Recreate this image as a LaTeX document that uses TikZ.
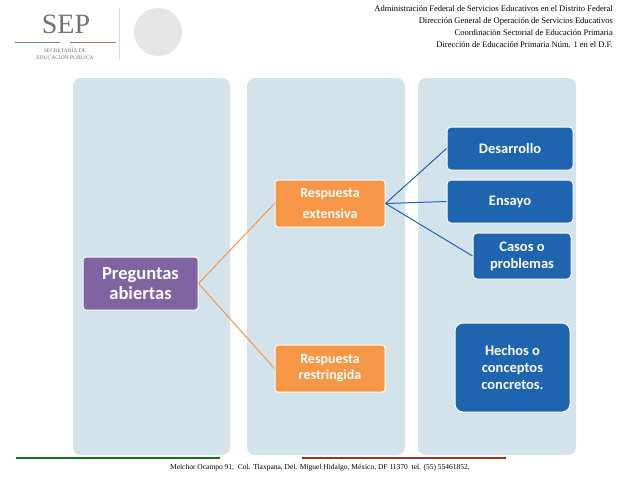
\documentclass[tikz,border=0pt]{standalone}
\usepackage{fontspec}
\setmainfont{Liberation Serif}
\newfontfamily\calibri{Carlito}
\usetikzlibrary{positioning}
\definecolor{colbg}{HTML}{D3E3EC}
\definecolor{purplebox}{HTML}{8064A2}
\definecolor{orangebox}{HTML}{F79646}
\definecolor{bluebox}{HTML}{1F64AE}
\definecolor{sepgreen}{HTML}{1E6B2A}
\definecolor{sepred}{HTML}{8B3A2A}
\tikzset{
  column/.style={fill=colbg, rounded corners=8pt, draw=none},
  mainbox/.style={fill=purplebox, draw=white, line width=1pt, rounded corners=3pt, text=white, font=\calibri\bfseries\fontsize{18.5}{20}\selectfont, align=center, inner sep=0pt},
  midbox/.style={fill=orangebox, draw=white, line width=1pt, rounded corners=3pt, text=white, font=\calibri\bfseries\fontsize{14}{21}\selectfont, align=center, inner sep=0pt},
  leafbox/.style={fill=bluebox, draw=white, line width=1pt, rounded corners=4pt, text=white, font=\calibri\bfseries\fontsize{14.5}{17}\selectfont, align=center, inner sep=0pt},
  orangeline/.style={draw=orangebox, line width=1pt},
  blueline/.style={draw=bluebox, line width=1pt},
  header/.style={font=\fontsize{8.5}{9}\selectfont, anchor=east, inner sep=0pt}
}
\begin{document}
\begin{tikzpicture}[x=1pt,y=-1pt]
\useasboundingbox (0,0) rectangle (638,479);
% columns
\fill[column] (73,78) rectangle (230,455);
\fill[column] (247,78) rectangle (405,455);
\fill[column] (418,78) rectangle (576,455);
% header
\node[font=\fontsize{28}{28}\selectfont, text=black!55] (sep) at (66,24) {SEP};
\draw[sepgreen!70, line width=1pt] (15,42) -- (60,42);
\draw[sepred!70, line width=1pt] (70,42) -- (116,42);
\node[font=\fontsize{5.5}{7}\selectfont, text=black!55, align=center] (secr) at (65,54) {SECRETARÍA DE\\EDUCACIÓN PÚBLICA};
\draw[black!15] (119,8) -- (119,60);
\fill[black!10] (158,32) circle (24);
\node[header] (h1) at (613,9) {Administración Federal de Servicios Educativos en el Distrito Federal};
\node[header] (h2) at (613,21) {Dirección General de Operación de Servicios Educativos};
\node[header] (h3) at (613,33) {Coordinación Sectorial de Educación Primaria};
\node[header] (h4) at (613,45) {Dirección de Educación Primaria Núm. 1 en el D.F.};
% boxes
\node[mainbox, minimum width=115, minimum height=53] (preg) at (140.5,283.5) {Preguntas\\abiertas};
\node[midbox, minimum width=110, minimum height=47] (ext) at (330,203.5) {Respuesta\\extensiva};
\node[midbox, minimum width=110, minimum height=47, font=\calibri\bfseries\fontsize{14}{16}\selectfont] (res) at (330,368.5) {Respuesta\\restringida};
\node[leafbox, minimum width=126, minimum height=43] (des) at (510,148.5) {Desarrollo};
\node[leafbox, minimum width=126, minimum height=43] (ens) at (510,201.5) {Ensayo};
\node[leafbox, minimum width=98, minimum height=46] (casos) at (522,256) {Casos o\\problemas};
\node[leafbox, minimum width=115, minimum height=89, rounded corners=8pt] (hech) at (512.5,367.5) {Hechos o\\conceptos\\concretos.};
% connectors
\draw[orangeline] (preg.east) -- (ext.west);
\draw[orangeline] (preg.east) -- (res.west);
\draw[blueline] (ext.east) -- (des.west);
\draw[blueline] (ext.east) -- (ens.west);
\draw[blueline] (ext.east) -- (casos.west);
% footer
\draw[sepgreen, line width=1.5pt] (16,458) -- (220,458);
\draw[sepred, line width=1.5pt] (302,458) -- (506,458);
\node[font=\fontsize{7.5}{8}\selectfont] (foot) at (320,468) {Melchor Ocampo 91,\ \ Col. Tlaxpana, Del. Miguel Hidalgo, México, DF 11370\ \ tel. (55) 55461852,};
\end{tikzpicture}
\end{document}
